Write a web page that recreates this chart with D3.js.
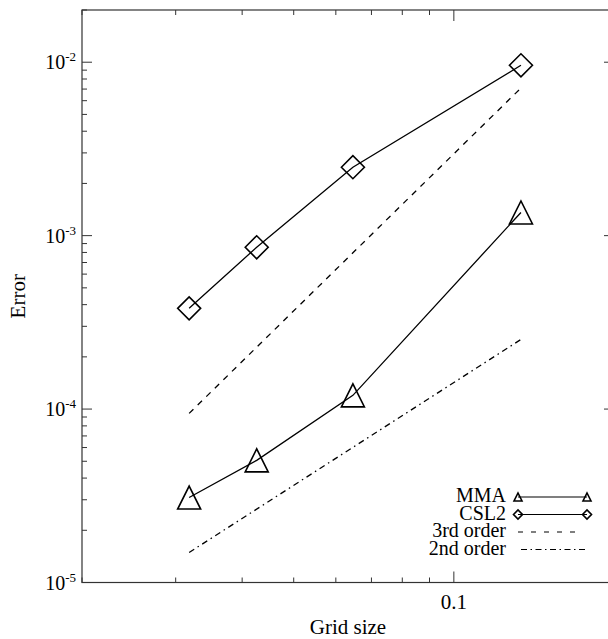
<!DOCTYPE html>
<html>
<head>
<meta charset="utf-8">
<script src="https://cdn.jsdelivr.net/npm/d3@7"></script>
<style>
  html, body { margin: 0; padding: 0; background: #fff; }
  svg text { font-family: "Liberation Serif", "DejaVu Serif", serif; fill: #000; }
</style>
</head>
<body>
<svg id="chart" width="608" height="639"></svg>
<script>
// data
const gridSize = [0.0318, 0.0426, 0.0646, 0.1337];
const errMMA   = [3.09e-5, 5.06e-5, 1.20e-4, 1.36e-3];
const errCSL2  = [3.81e-4, 8.57e-4, 2.48e-3, 9.6e-3];
// reference slopes, end points only
const order3X = [0.0318, 0.1337];
const order3Y = [9.44e-5, 7.1e-3];
const order2X = [0.0318, 0.1337];
const order2Y = [1.49e-5, 2.52e-4];

const legendNames = ['MMA', 'CSL2', '3rd order', '2nd order'];
const yTickExp = [-2, -3, -4, -5];
const xTickLabels = [0.1];

// layout
const svg = d3.select('#chart');
const mLeft = 82, mRight = 614, mTop = 10, mBottom = 582.5;

const x = d3.scaleLog().domain([0.02, 0.2]).range([mLeft, mRight]);
const y = d3.scaleLog().domain([1e-5, 2e-2]).range([mBottom, mTop]);

const ink = '#000';
const axisCol = '#333';

// frame + ticks
function ticksX(yPos, dir) {
  const all = d3.range(2, 10).map(d => d * 0.01).concat([0.1, 0.2]);
  all.forEach(v => {
    const major = v === 0.1;
    const len = major ? 11 : 5;
    svg.append('line')
      .attr('x1', x(v)).attr('x2', x(v))
      .attr('y1', yPos).attr('y2', yPos + dir * len)
      .attr('stroke', axisCol).attr('stroke-width', 1);
  });
}
function ticksY(xPos, dir) {
  const vals = [];
  for (let e = -5; e <= -2; e++) {
    for (let m = 1; m <= 9; m++) {
      const v = m * Math.pow(10, e);
      if (v <= 2e-2 + 1e-12) vals.push({ v, major: m === 1 });
    }
  }
  vals.forEach(d => {
    const len = d.major ? 10 : 5;
    svg.append('line')
      .attr('x1', xPos).attr('x2', xPos + dir * len)
      .attr('y1', y(d.v)).attr('y2', y(d.v))
      .attr('stroke', axisCol).attr('stroke-width', 1);
  });
}

svg.append('rect')
  .attr('x', mLeft).attr('y', mTop)
  .attr('width', mRight - mLeft).attr('height', mBottom - mTop)
  .attr('fill', 'none').attr('stroke', axisCol).attr('stroke-width', 1.2);

ticksX(mBottom, -1);
ticksX(mTop, 1);
ticksY(mLeft, 1);
ticksY(mRight, -1);

// tick labels
yTickExp.forEach(e => {
  const t = svg.append('text')
    .attr('x', 76).attr('y', y(Math.pow(10, e)) + 7)
    .attr('text-anchor', 'end')
    .style('font-size', '20px');
  t.append('tspan').text('10');
  t.append('tspan').attr('dy', -8).style('font-size', '13px').text(String(e));
});

xTickLabels.forEach(v => {
  svg.append('text')
    .attr('x', x(v)).attr('y', 609)
    .attr('text-anchor', 'middle')
    .style('font-size', '21px')
    .text(v);
});

// axis titles
svg.append('text')
  .attr('x', (mLeft + mRight) / 2).attr('y', 634)
  .attr('text-anchor', 'middle')
  .style('font-size', '21px')
  .text('Grid size');

svg.append('text')
  .attr('transform', `translate(25,${(mTop + mBottom) / 2}) rotate(-90)`)
  .attr('text-anchor', 'middle')
  .style('font-size', '21px')
  .text('Error');

// series
const line = d3.line().x(d => x(d[0])).y(d => y(d[1]));

function triangle(g, cx, cy, h) {
  g.append('path')
    .attr('d', `M${cx - h},${cy + h}L${cx + h},${cy + h}L${cx},${cy - h}Z`)
    .attr('fill', 'none').attr('stroke', ink).attr('stroke-width', 1.6);
}
function diamond(g, cx, cy, h) {
  g.append('path')
    .attr('d', `M${cx - h},${cy}L${cx},${cy - h}L${cx + h},${cy}L${cx},${cy + h}Z`)
    .attr('fill', 'none').attr('stroke', ink).attr('stroke-width', 1.6);
}

const mmaPts = gridSize.map((g, i) => [g, errMMA[i]]);
const cslPts = gridSize.map((g, i) => [g, errCSL2[i]]);

svg.append('path').datum(order3X.map((g, i) => [g, order3Y[i]]))
  .attr('d', line).attr('fill', 'none').attr('stroke', ink)
  .attr('stroke-width', 1.3).attr('stroke-dasharray', '6,6');

svg.append('path').datum(order2X.map((g, i) => [g, order2Y[i]]))
  .attr('d', line).attr('fill', 'none').attr('stroke', ink)
  .attr('stroke-width', 1.3).attr('stroke-dasharray', '6,4,1.5,4');

svg.append('path').datum(mmaPts)
  .attr('d', line).attr('fill', 'none').attr('stroke', ink).attr('stroke-width', 1.3);
svg.append('path').datum(cslPts)
  .attr('d', line).attr('fill', 'none').attr('stroke', ink).attr('stroke-width', 1.3);

const marks = svg.append('g');
mmaPts.forEach(d => triangle(marks, x(d[0]), y(d[1]), 11.5));
cslPts.forEach(d => diamond(marks, x(d[0]), y(d[1]), 11.5));

// legend
const lg = svg.append('g');
const lgTextX = 506, lgX1 = 518, lgX2 = 587;
const rowY = [497, 514.5, 532, 549.5];
legendNames.forEach((name, i) => {
  lg.append('text')
    .attr('x', lgTextX).attr('y', rowY[i] + 5)
    .attr('text-anchor', 'end')
    .style('font-size', '20px')
    .text(name);
  const ln = lg.append('line')
    .attr('x1', lgX1).attr('x2', lgX2)
    .attr('y1', rowY[i]).attr('y2', rowY[i])
    .attr('stroke', ink).attr('stroke-width', 1.2);
  if (i === 2) ln.attr('x2', lgX2 - 6).attr('stroke-dasharray', '5,8');
  if (i === 3) ln.attr('x1', lgX1 + 3).attr('stroke-dasharray', '6,3.5,1.5,3.5');
  if (i === 0) { triangle(lg, lgX1, rowY[i], 4); triangle(lg, lgX2, rowY[i], 4); }
  if (i === 1) { diamond(lg, lgX1, rowY[i], 4.5); diamond(lg, lgX2, rowY[i], 4.5); }
});
</script>
</body>
</html>
